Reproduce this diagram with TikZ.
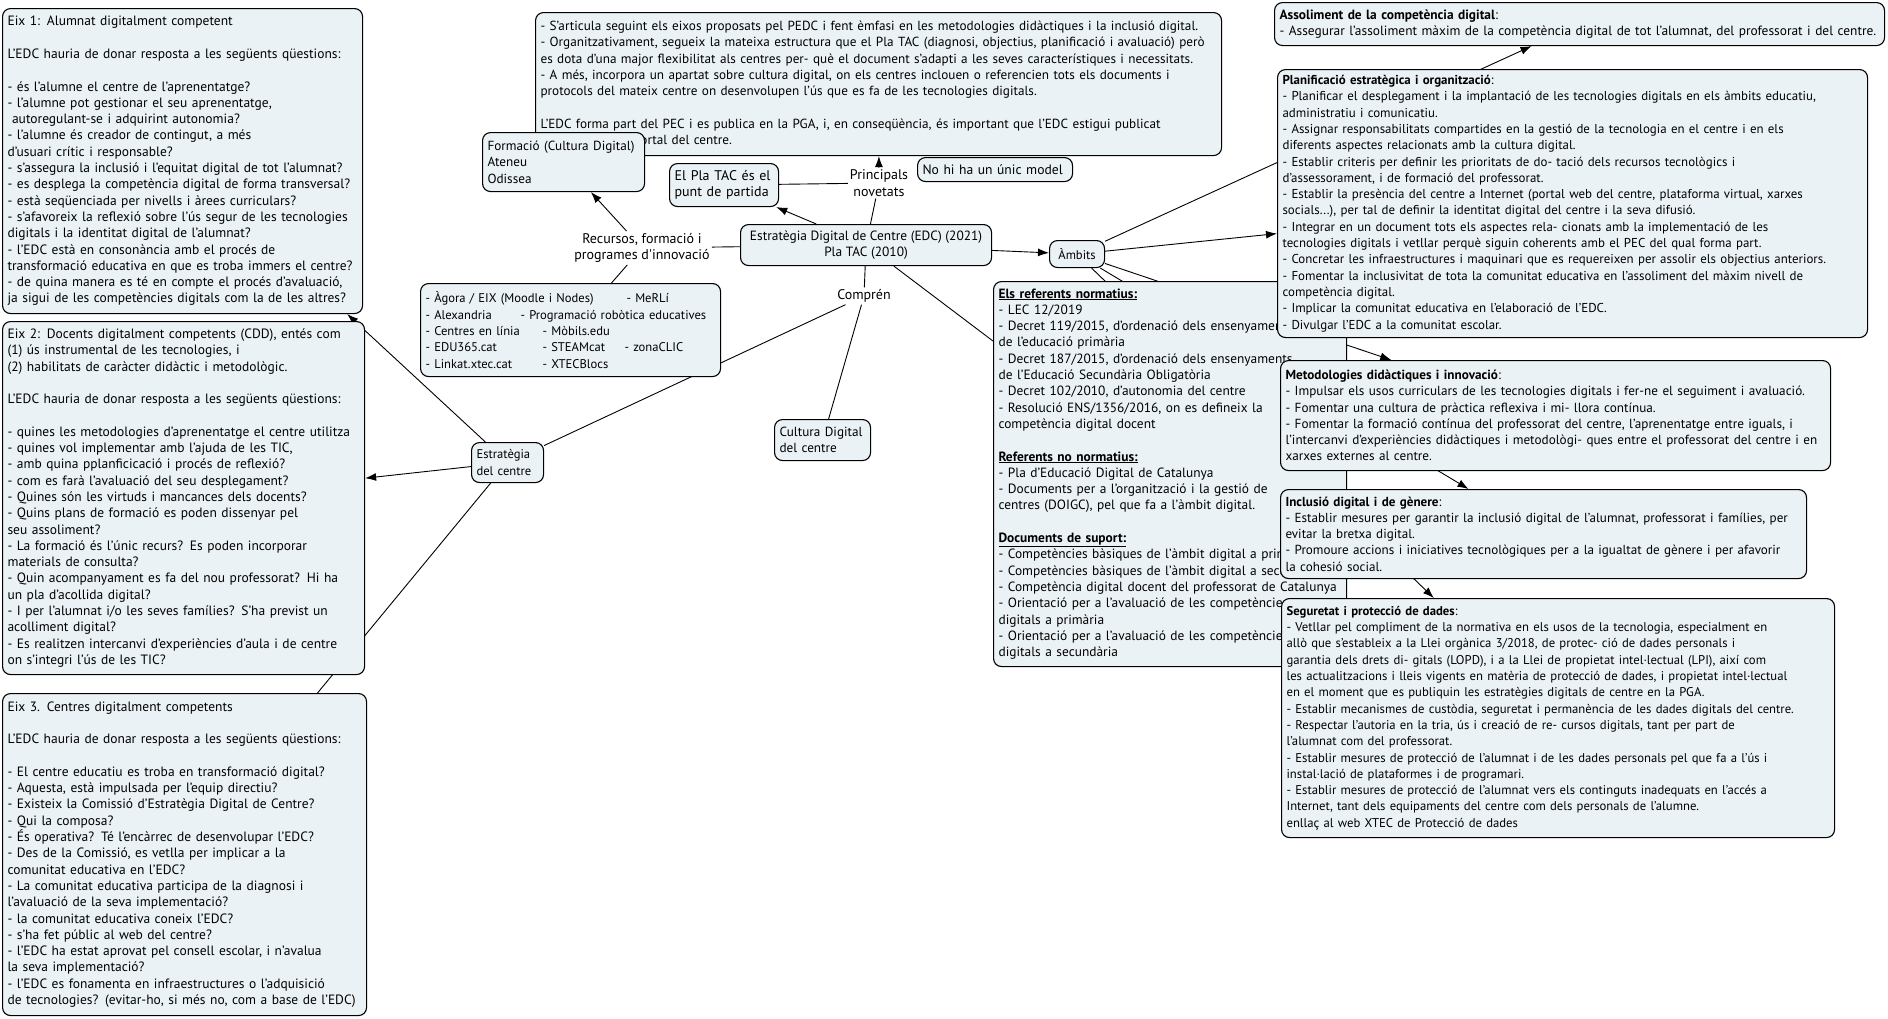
\documentclass[tikz,border=0pt]{standalone}
\usepackage{fontspec}
\setmainfont{PT Sans}
\usetikzlibrary{arrows.meta,backgrounds}

\definecolor{conceptfill}{RGB}{235,242,245}
\newcommand{\mapfont}[1]{\fontsize{#1}{16.3}\selectfont}

\begin{document}
\begin{tikzpicture}[x=1pt,y=-1pt,>={Latex[length=11pt,width=8pt]},
  concept/.style={draw,rounded corners=8pt,fill=conceptfill,line width=1.1pt,
  anchor=north west,align=left,inner xsep=5pt,inner ysep=4pt,font=\mapfont{#1}},
  concept/.default=12.6,
  link label/.style={align=center,inner sep=2pt,font=\mapfont{14}},
  link line/.style={line width=0.9pt}]

  \useasboundingbox (0,0) rectangle (1888,1018);

  % Eixos (left column)
  \node[concept=13.5,text width=350pt,minimum height=305pt] (eixu) at (2,8)
    {Eix 1: Alumnat digitalment competent\\ ~\\
     L’EDC hauria de donar resposta a les següents qüestions:\\ ~\\
     - és l’alumne el centre de l’aprenentatge?\\
     - l’alumne pot gestionar el seu aprenentatge,\\
     \ autoregulant-se i adquirint autonomia?\\
     - l’alumne és creador de contingut, a més\\
     d’usuari crític i responsable?\\
     - s’assegura la inclusió i l’equitat digital de tot l’alumnat?\\
     - es desplega la competència digital de forma transversal?\\
     - està seqüenciada per nivells i àrees curriculars?\\
     - s’afavoreix la reflexió sobre l’ús segur de les tecnologies\\
     digitals i la identitat digital de l’alumnat?\\
     - l’EDC està en consonància amb el procés de\\
     transformació educativa en que es troba immers el centre?\\
     - de quina manera es té en compte el procés d’avaluació,\\
     ja sigui de les competències digitals com la de les altres?};
  \node[concept=13.5,text width=352pt,minimum height=353pt] (eixd) at (2,321)
    {Eix 2: Docents digitalment competents (CDD), entés com\\
     (1) ús instrumental de les tecnologies, i\\
     (2) habilitats de caràcter didàctic i metodològic.\\ ~\\
     L’EDC hauria de donar resposta a les següents qüestions:\\ ~\\
     - quines les metodologies d’aprenentatge el centre utilitza\\
     - quines vol implementar amb l’ajuda de les TIC,\\
     - amb quina pplanficicació i procés de reflexió?\\
     - com es farà l’avaluació del seu desplegament?\\
     - Quines són les virtuds i mancances dels docents?\\
     - Quins plans de formació es poden dissenyar pel\\
     seu assoliment?\\
     - La formació és l’únic recurs? Es poden incorporar\\
     materials de consulta?\\
     - Quin acompanyament es fa del nou professorat? Hi ha\\
     un pla d’acollida digital?\\
     - I per l’alumnat i/o les seves famílies? S’ha previst un\\
     acolliment digital?\\
     - Es realitzen intercanvi d’experiències d’aula i de centre\\
     on s’integri l’ús de les TIC?};
  \node[concept=13.5,text width=354pt,minimum height=322pt] (eixt) at (2,693)
    {Eix 3. Centres digitalment competents\\ ~\\
     L’EDC hauria de donar resposta a les següents qüestions:\\ ~\\
     - El centre educatiu es troba en transformació digital?\\
     - Aquesta, està impulsada per l’equip directiu?\\
     - Existeix la Comissió d’Estratègia Digital de Centre?\\
     - Qui la composa?\\
     - És operativa? Té l’encàrrec de desenvolupar l’EDC?\\
     - Des de la Comissió, es vetlla per implicar a la\\
     comunitat educativa en l’EDC?\\
     - La comunitat educativa participa de la diagnosi i\\
     l’avaluació de la seva implementació?\\
     - la comunitat educativa coneix l’EDC?\\
     - s’ha fet públic al web del centre?\\
     - l’EDC ha estat aprovat pel consell escolar, i n’avalua\\
     la seva implementació?\\
     - l’EDC es fonamenta en infraestructures o l’adquisició\\
     de tecnologies? (evitar-ho, si més no, com a base de l’EDC)};

  % Centre of the map
  \node[concept=13.2,text width=676pt,minimum height=143pt] (novetats) at (535,12)
    {- S’articula seguint els eixos proposats pel PEDC i fent èmfasi en les metodologies didàctiques i la inclusió digital.\\
     - Organitzativament, segueix la mateixa estructura que el Pla TAC (diagnosi, objectius, planificació i avaluació) però\\
     es dota d’una major flexibilitat als centres per- què el document s’adapti a les seves característiques i necessitats.\\
     - A més, incorpora un apartat sobre cultura digital, on els centres inclouen o referencien tots els documents i\\
     protocols del mateix centre on desenvolupen l’ús que es fa de les tecnologies digitals.\\ ~\\
     L’EDC forma part del PEC i es publica en la PGA, i, en conseqüència, és important que l’EDC estigui publicat\\
     \hspace*{78pt}al portal del centre.};
  \node[concept=13.2,text width=152pt,minimum height=59pt] (formacio) at (482,132)
    {Formació (Cultura Digital)\\Ateneu\\Odissea};
  \node[concept=14,text width=99pt,minimum height=43pt] (platac) at (669,163)
    {El Pla TAC és el\\punt de partida};
  \node[concept=13.6,text width=145pt,minimum height=24pt,inner ysep=2pt] (unicmodel) at (917,157)
    {No hi ha un únic model};
  \node[concept=13.4,align=center,minimum width=251pt,minimum height=41pt] (edc) at (740,224)
    {Estratègia Digital de Centre (EDC) (2021)\\Pla TAC (2010)};
  \node[concept,text width=290pt,minimum height=93pt] (recursos) at (420,283)
    {\makebox[201pt][l]{- Àgora / EIX (Moodle i Nodes)}- MeRLí\\
     \makebox[95pt][l]{- Alexandria}- Programació robòtica educatives\\
     \makebox[117pt][l]{- Centres en línia}- Mòbils.edu\\
     \makebox[117pt][l]{- EDU365.cat}\makebox[82pt][l]{- STEAMcat}- zonaCLIC\\
     \makebox[117pt][l]{- Linkat.xtec.cat}- XTECBlocs};
  \node[concept=13.2,text width=86pt,minimum height=41pt] (cultura) at (774,419)
    {Cultura Digital\\del centre};
  \node[concept,text width=62pt,minimum height=40pt] (estrategia) at (471,442)
    {Estratègia\\del centre};
  \node[concept,align=center,minimum width=55pt,minimum height=27pt,inner ysep=2pt] (ambits) at (1049,240)
    {Àmbits};

  \node[link label] (principals) at (879,183) {Principals\\novetats};
  \node[link label] (recursoslbl) at (642,248) {Recursos, formació i\\programes d\textquotesingle innovació};
  \node[link label] (compren) at (864,296) {Comprén};

  % Referents
  \node[concept=13.4,text width=343pt,minimum height=385pt] (referents) at (993,281)
    {\underline{\textbf{Els referents normatius:}}\\
     - LEC 12/2019\\
     - Decret 119/2015, d’ordenació dels ensenyaments\\
     de l’educació primària\\
     - Decret 187/2015, d’ordenació dels ensenyaments\\
     de l’Educació Secundària Obligatòria\\
     - Decret 102/2010, d’autonomia del centre\\
     - Resolució ENS/1356/2016, on es defineix la\\
     competència digital docent\\ ~\\
     \underline{\textbf{Referents no normatius:}}\\
     - Pla d’Educació Digital de Catalunya\\
     - Documents per a l’organització i la gestió de\\
     centres (DOIGC), pel que fa a l’àmbit digital.\\ ~\\
     \underline{\textbf{Documents de suport:}}\\
     - Competències bàsiques de l’àmbit digital a primària\\
     - Competències bàsiques de l’àmbit digital a secundària\\
     - Competència digital docent del professorat de Catalunya\\
     - Orientació per a l’avaluació de les competències\\
     digitals a primària\\
     - Orientació per a l’avaluació de les competències\\
     digitals a secundària};

  % Ambits (right column)
  \node[concept=13.4,text width=600pt,minimum height=43pt] (assoliment) at (1274,2)
    {\textbf{Assoliment de la competència digital}:\\
     - Assegurar l’assoliment màxim de la competència digital de tot l’alumnat, del professorat i del centre.};
  \node[concept=12.9,text width=580pt,minimum height=268pt] (planificacio) at (1277,69)
    {\textbf{Planificació estratègica i organització}:\\
     - Planificar el desplegament i la implantació de les tecnologies digitals en els àmbits educatiu,\\
     administratiu i comunicatiu.\\
     - Assignar responsabilitats compartides en la gestió de la tecnologia en el centre i en els\\
     diferents aspectes relacionats amb la cultura digital.\\
     - Establir criteris per definir les prioritats de do- tació dels recursos tecnològics i\\
     d’assessorament, i de formació del professorat.\\
     - Establir la presència del centre a Internet (portal web del centre, plataforma virtual, xarxes\\
     socials...), per tal de definir la identitat digital del centre i la seva difusió.\\
     - Integrar en un document tots els aspectes rela- cionats amb la implementació de les\\
     tecnologies digitals i vetllar perquè siguin coherents amb el PEC del qual forma part.\\
     - Concretar les infraestructures i maquinari que es requereixen per assolir els objectius anteriors.\\
     - Fomentar la inclusivitat de tota la comunitat educativa en l’assoliment del màxim nivell de\\
     competència digital.\\
     - Implicar la comunitat educativa en l’elaboració de l’EDC.\\
     - Divulgar l’EDC a la comunitat escolar.};
  \node[concept=13.2,text width=540pt,minimum height=110pt] (metodologies) at (1280,360)
    {\textbf{Metodologies didàctiques i innovació}:\\
     - Impulsar els usos curriculars de les tecnologies digitals i fer-ne el seguiment i avaluació.\\
     - Fomentar una cultura de pràctica reflexiva i mi- llora contínua.\\
     - Fomentar la formació contínua del professorat del centre, l’aprenentatge entre iguals, i\\
     l’intercanvi d’experiències didàctiques i metodològi- ques entre el professorat del centre i en\\
     xarxes externes al centre.};
  \node[concept=13.1,text width=516pt,minimum height=89pt] (inclusio) at (1280,489)
    {\textbf{Inclusió digital i de gènere}:\\
     - Establir mesures per garantir la inclusió digital de l’alumnat, professorat i famílies, per\\
     evitar la bretxa digital.\\
     - Promoure accions i iniciatives tecnològiques per a la igualtat de gènere i per afavorir\\
     la cohesió social.};
  \node[concept=12.7,text width=543pt,minimum height=239pt] (seguretat) at (1281,598)
    {\textbf{Seguretat i protecció de dades}:\\
     - Vetllar pel compliment de la normativa en els usos de la tecnologia, especialment en\\
     allò que s’estableix a la Llei orgànica 3/2018, de protec- ció de dades personals i\\
     garantia dels drets di- gitals (LOPD), i a la Llei de propietat intel·lectual (LPI), així com\\
     les actualitzacions i lleis vigents en matèria de protecció de dades, i propietat intel·lectual\\
     en el moment que es publiquin les estratègies digitals de centre en la PGA.\\
     - Establir mecanismes de custòdia, seguretat i permanència de les dades digitals del centre.\\
     - Respectar l’autoria en la tria, ús i creació de re- cursos digitals, tant per part de\\
     l’alumnat com del professorat.\\
     - Establir mesures de protecció de l’alumnat i de les dades personals pel que fa a l’ús i\\
     instal·lació de plataformes i de programari.\\
     - Establir mesures de protecció de l’alumnat vers els continguts inadequats en l’accés a\\
     Internet, tant dels equipaments del centre com dels personals de l’alumne.\\
     enllaç al web XTEC de Protecció de dades};

  % Connectors, kept behind the boxes
  \begin{scope}[on background layer]
    \fill[white] (0,0) rectangle (1888,1018);
    \path[link line]
      (edc) edge (principals)
            edge [->] (platac)
            edge (recursoslbl)
            edge (compren)
            edge (referents)
            edge [->] (ambits)
      (principals) edge [->] (novetats)
            edge (platac)
      (recursoslbl) edge [->] (formacio)
            edge (recursos)
      (compren) edge (cultura)
            edge (estrategia)
      (estrategia) edge [->] (eixu)
            edge [->] (eixd)
            edge (eixt)
      (ambits) edge [->] (assoliment)
            edge [->] (planificacio)
            edge [->] (metodologies)
            edge [->] (inclusio)
            edge [->] (seguretat);
  \end{scope}
\end{tikzpicture}
\end{document}
